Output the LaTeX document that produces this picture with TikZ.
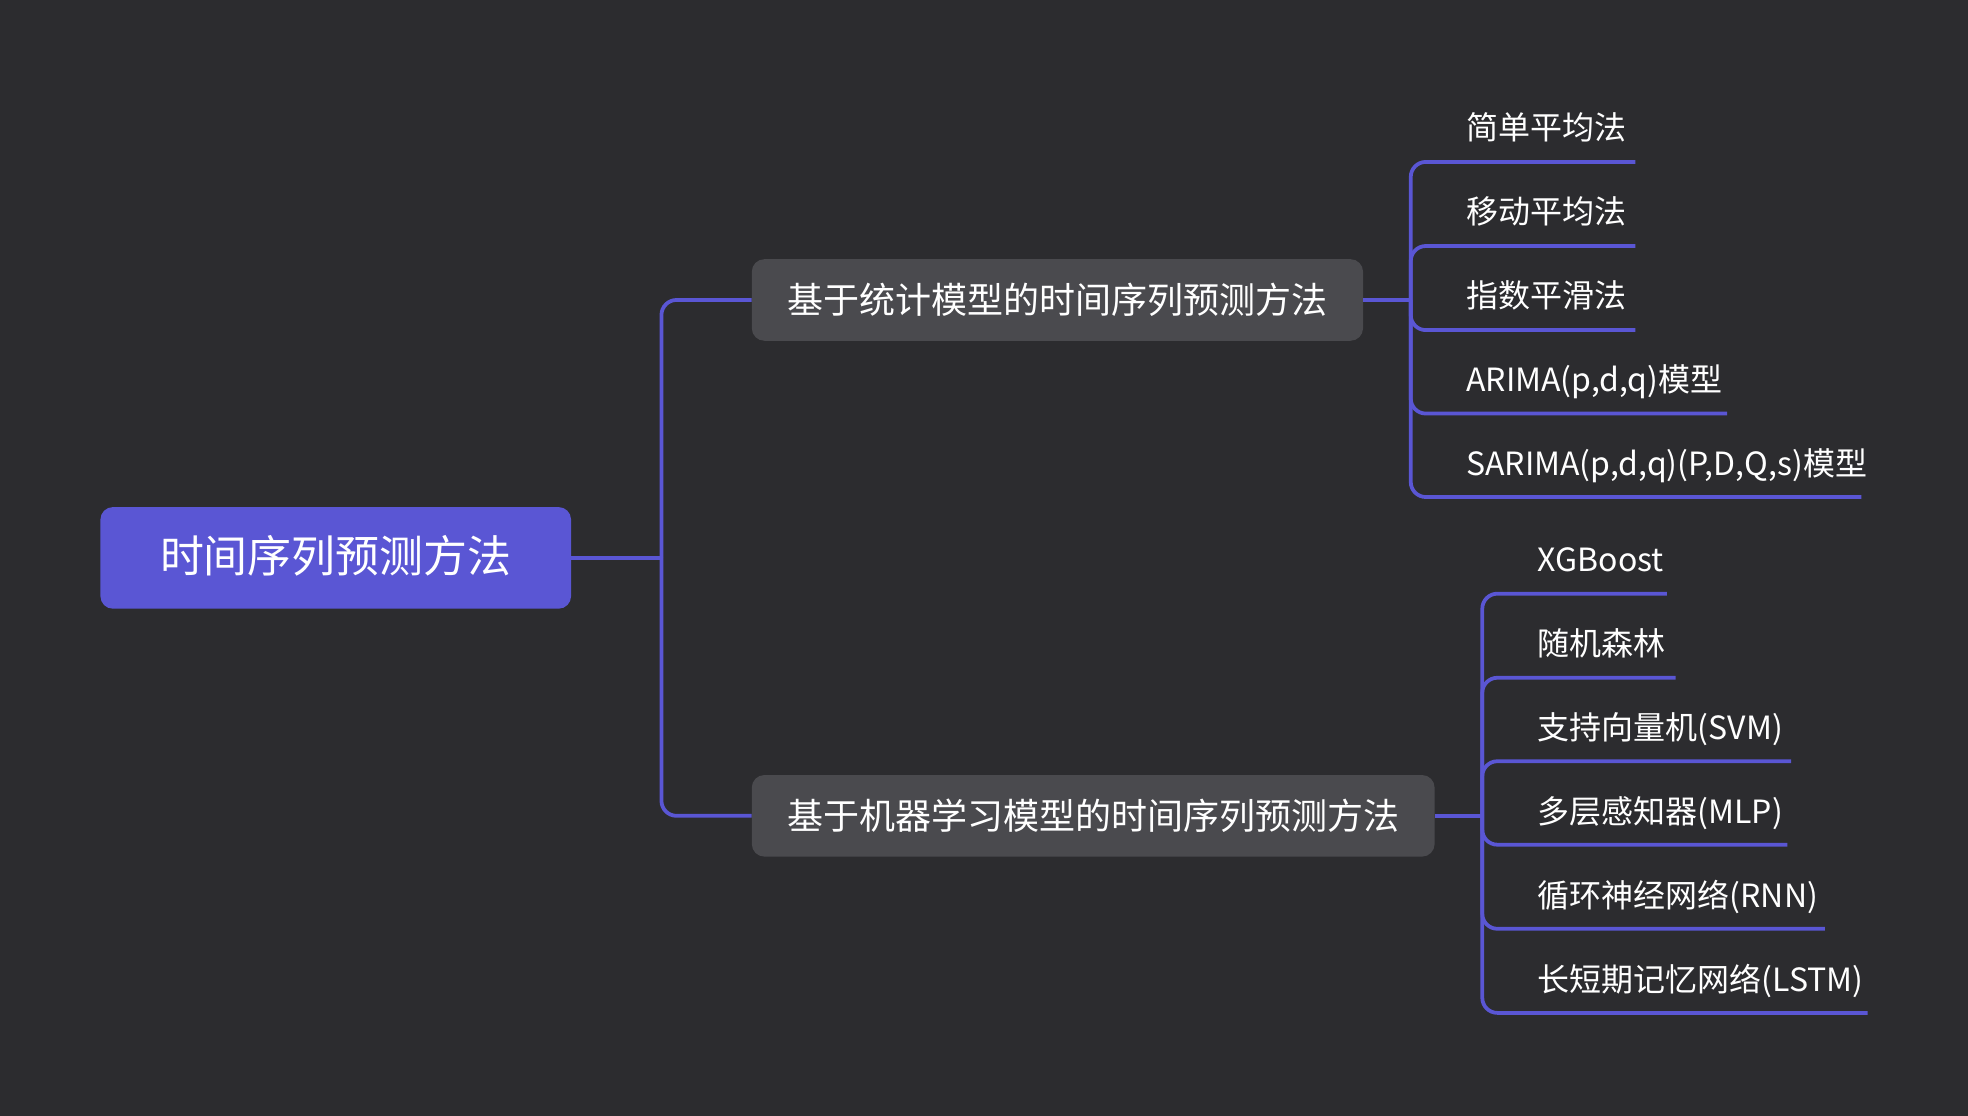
\documentclass[tikz,border=0pt]{standalone}
\usepackage{fontspec}
\setmainfont{Noto Sans CJK SC}
\definecolor{bg}{HTML}{2C2C2F}
\definecolor{accent}{HTML}{5A56D4}
\definecolor{boxgray}{HTML}{4A4A4E}
\begin{document}
\begin{tikzpicture}[x=1pt,y=-1pt,
  link/.style={draw=accent, line width=3pt, rounded corners=12pt},
  rootbox/.style={fill=accent, rounded corners=10pt, minimum width=375pt, minimum height=81pt,
    text=white, font=\fontsize{35}{40}\selectfont, inner sep=0pt, text height=28pt, text depth=4pt},
  branchbox/.style={fill=boxgray, rounded corners=10pt, minimum height=65pt,
    text=white, font=\fontsize{28.7}{32}\selectfont, inner sep=0pt, text height=24pt, text depth=3pt},
  leaf/.style={anchor=west, text=white, font=\fontsize{25.5}{30}\selectfont, inner sep=0pt,
    text height=22pt, text depth=2pt}]
\fill[bg] (0,0) rectangle (1568,889);
\useasboundingbox (0,0) rectangle (1568,889);

% nodes
\node[rootbox] (root) at (267.5,444.5) {时间序列预测方法};
\node[branchbox, minimum width=487pt] (b1) at (842.5,239) {基于统计模型的时间序列预测方法};
\node[branchbox, minimum width=544pt] (b2) at (871,650) {基于机器学习模型的时间序列预测方法};

% junctions
\coordinate (jr) at (527,444.5);
\coordinate (ja) at (1124,239);
\coordinate (jb) at (1181,650);

% root connectors
\draw[link] (root.east) -- (jr);
\draw[link] (jr) |- (b1.west);
\draw[link] (jr) |- (b2.west);
\draw[link] (b1.east) -- (ja);
\draw[link] (b2.east) -- (jb);

% upper leaves
\node[leaf] (s1) at (1168,101) {简单平均法};
\node[leaf] (s2) at (1168,168) {移动平均法};
\node[leaf] (s3) at (1168,235) {指数平滑法};
\node[leaf] (s4) at (1168,302) {ARIMA(p,d,q)模型};
\node[leaf] (s5) at (1168,369) {SARIMA(p,d,q)(P,D,Q,s)模型};
\coordinate (e1) at (1303,129);
\coordinate (e2) at (1303,196);
\coordinate (e3) at (1303,263);
\coordinate (e4) at (1376,329.5);
\coordinate (e5) at (1483,396);
\foreach \e in {e1,e2,e3,e4,e5} \draw[link] (ja) |- (\e);

% lower leaves
\node[leaf] (m1) at (1225,445) {XGBoost};
\node[leaf] (m2) at (1225,512) {随机森林};
\node[leaf] (m3) at (1225,579) {支持向量机(SVM)};
\node[leaf] (m4) at (1225,646) {多层感知器(MLP)};
\node[leaf] (m5) at (1225,713) {循环神经网络(RNN)};
\node[leaf] (m6) at (1225,780) {长短期记忆网络(LSTM)};
\coordinate (f1) at (1328,473);
\coordinate (f2) at (1335,540);
\coordinate (f3) at (1427,606.5);
\coordinate (f4) at (1424,673);
\coordinate (f5) at (1454,740);
\coordinate (f6) at (1488,807);
\foreach \e in {f1,f2,f3,f4,f5,f6} \draw[link] (jb) |- (\e);
\end{tikzpicture}
\end{document}
